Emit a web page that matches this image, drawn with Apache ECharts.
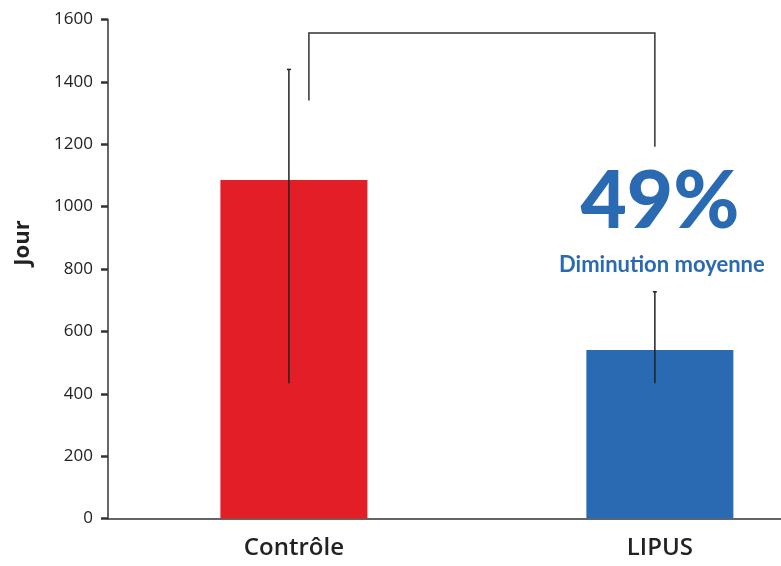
<!DOCTYPE html>
<html><head><meta charset="utf-8">
<script src="https://cdn.jsdelivr.net/npm/echarts@6/dist/echarts.min.js"></script>
<style>html,body{margin:0;padding:0;background:#fff}#c{width:781px;height:566px}</style>
</head><body><div id="c"></div>
<script>
const categories = ['Contrôle', 'LIPUS'];
const meanValues = [1085, 540];
const errorLow = [434, 434];
const errorHigh = [1440, 727];
const yTicks = [0, 200, 400, 600, 800, 1000, 1200, 1400, 1600];
const bracketLevels = [1340, 1557, 1192]; // left foot, top, right foot
const annotation = {big: '49%', small: 'Diminution moyenne', bigY: 1015, smallY: 813};

const colors = ['#E41E26', '#2A6AB2'];
const chart = echarts.init(document.getElementById('c'));
chart.setOption({
  animation: false,
  grid: {left: 108, right: 0, top: 19.5, bottom: 47.5, containLabel: false},
  xAxis: {
    type: 'value', min: -0.508, max: 1.331,
    splitLine: {show: false},
    axisLine: {onZero: false, lineStyle: {color: '#333', width: 1.5}},
    axisTick: {show: false},
    axisLabel: {
      customValues: [0, 1],
      formatter: v => categories[Math.round(v)] || '',
      color: '#222', fontSize: 24, fontFamily: 'Open Sans', fontWeight: 600, margin: 18
    }
  },
  yAxis: {
    type: 'value', min: yTicks[0], max: yTicks[yTicks.length - 1], interval: 200,
    name: 'Jour', nameLocation: 'middle', nameGap: 74, nameRotate: 90,
    nameTextStyle: {color: '#222', fontSize: 22, fontWeight: 'bold', fontFamily: 'Open Sans', padding: [0, 0, 0, 52]},
    axisLine: {show: true, onZero: false, lineStyle: {color: '#333', width: 1.5}},
    axisTick: {show: true, length: 7, lineStyle: {color: '#333', width: 2.5}},
    splitLine: {show: false},
    axisLabel: {color: '#222', fontSize: 17, fontFamily: 'Open Sans', margin: 15, formatter: v => String(v)}
  },
  series: [
    {
      type: 'bar', barWidth: 147,
      data: meanValues.map((v, i) => ({value: [i, v], itemStyle: {color: colors[i]}}))
    },
    {
      type: 'custom', z: 5,
      data: categories.map((c, i) => [i, errorLow[i], errorHigh[i]]),
      renderItem: function (params, api) {
        const lo = api.coord([api.value(0), api.value(1)]);
        const hi = api.coord([api.value(0), api.value(2)]);
        const x = lo[0] - 5;
        return {type: 'group', children: [
          {type: 'line', shape: {x1: x, y1: lo[1], x2: x, y2: hi[1]}, style: {stroke: '#222', lineWidth: 1.5}},
          {type: 'line', shape: {x1: x - 2, y1: hi[1], x2: x + 2, y2: hi[1]}, style: {stroke: '#222', lineWidth: 1.5}}
        ]};
      }
    },
    {
      type: 'custom', z: 5,
      data: [[0, bracketLevels[0], bracketLevels[1], bracketLevels[2]]],
      renderItem: function (params, api) {
        const a = api.coord([0, api.value(1)]);
        const t0 = api.coord([0, api.value(2)]);
        const t1 = api.coord([1, api.value(2)]);
        const b = api.coord([1, api.value(3)]);
        return {type: 'polyline', shape: {points: [
          [a[0] + 15, a[1]], [t0[0] + 15, t0[1]], [t1[0] - 5, t1[1]], [b[0] - 5, b[1]]
        ]}, style: {stroke: '#333', lineWidth: 1.5, fill: null}};
      }
    },
    {
      type: 'custom', z: 6,
      data: [[1, annotation.bigY, annotation.smallY]],
      renderItem: function (params, api) {
        const p1 = api.coord([1, api.value(1)]);
        const p2 = api.coord([1, api.value(2)]);
        return {type: 'group', children: [
          {type: 'text', x: p1[0], y: p1[1], style: {text: annotation.big, fill: '#2A6AB2',
            font: '900 80px Lato', align: 'center', verticalAlign: 'middle'}},
          {type: 'text', x: p2[0] + 2, y: p2[1], style: {text: annotation.small, fill: '#2A6AB2',
            font: 'bold 22px Lato', align: 'center', verticalAlign: 'middle'}}
        ]};
      }
    }
  ]
});
</script></body></html>
